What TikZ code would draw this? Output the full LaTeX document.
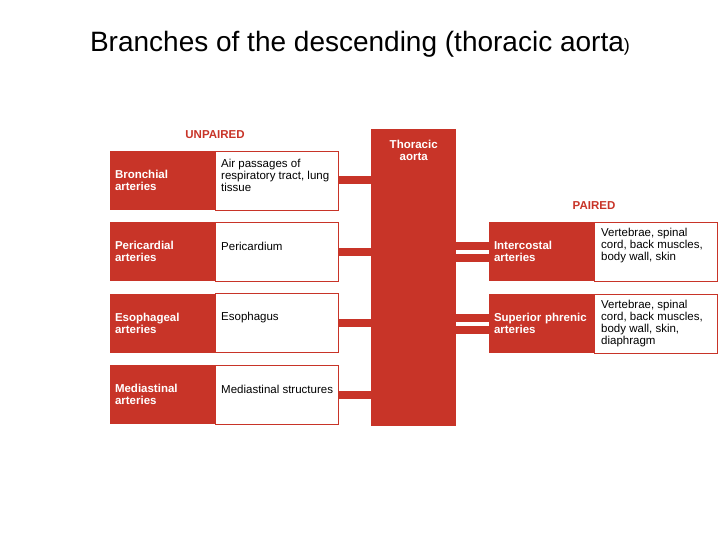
\documentclass[tikz,border=0pt]{standalone}
\usepackage{fontspec}
\setmainfont{Liberation Sans}
\usetikzlibrary{positioning}
\definecolor{aortared}{RGB}{200,52,40}
\def\boxfont{\fontsize{11.5}{12}\selectfont}
\tikzset{
	artery/.style={fill=aortared, text=white, font=\bfseries\boxfont, align=left, text width=95pt, inner xsep=5pt, inner ysep=0pt, outer sep=0pt, minimum width=105pt, minimum height=59pt, anchor=north west},
	region/.style={draw=aortared, fill=white, line width=0.8pt, inner sep=0pt, outer sep=0pt, minimum width=123pt, minimum height=59pt},
	regtext/.style={font=\boxfont, align=left, inner sep=0pt, anchor=west},
	heading/.style={text=aortared, font=\bfseries\boxfont, inner sep=0pt},
	branch/.style={draw=aortared, line width=8pt},
}

\begin{document}
\begin{tikzpicture}[x=1pt, y=-1pt]
			%%%%% START %%%%%
			\useasboundingbox (0, 0) rectangle (720, 540);
			
			\node[anchor=base, font=\fontsize{28}{30}\selectfont, inner sep=0pt] (title) at (360, 52) {Branches of the descending (thoracic aorta{\fontsize{18}{18}\selectfont)}};
			
			\node[fill=aortared, inner sep=0pt, minimum width=85pt, minimum height=297pt, anchor=north west] (aorta) at (371, 129) {};
			\node[text=white, font=\bfseries\boxfont, align=center, inner sep=0pt, anchor=north] (aortaT) at ([yshift=-11pt]aorta.north) {Thoracic\\aorta};
			
			% unpaired
			\node[artery] (bron) at (110, 151) {Bronchial\\arteries};
			\node[region, right=0pt of bron] (bronR) {};
			\node[regtext] (bronT) at ([shift={(6, -5)}]bronR.west) {Air passages of\\respiratory tract, lung\\tissue};
			
			\node[artery] (peri) at (110, 222) {Pericardial\\arteries};
			\node[region, right=0pt of peri] (periR) {};
			\node[regtext] (periT) at ([shift={(6, -5)}]periR.west) {Pericardium};
			
			\node[artery] (eso) at (110, 293.5) {Esophageal\\arteries};
			\node[region, right=0pt of eso] (esoR) {};
			\node[regtext] (esoT) at ([shift={(6, -5)}]esoR.west) {Esophagus};
			
			\node[artery] (medi) at (110, 365) {Mediastinal\\arteries};
			\node[region, right=0pt of medi] (mediR) {};
			\node[regtext] (mediT) at ([shift={(6, -5)}]mediR.west) {Mediastinal structures};
			
			\node[heading, above=12pt of bronR.north west] (unpaired) {UNPAIRED};
			
			\draw[branch] (bronR.east) -- (bronR.east -| aorta.west);
			\draw[branch] (periR.east) -- (periR.east -| aorta.west);
			\draw[branch] (esoR.east) -- (esoR.east -| aorta.west);
			\draw[branch] (mediR.east) -- (mediR.east -| aorta.west);
			
			% paired
			\node[artery] (inter) at (489, 222) {Intercostal\\arteries};
			\node[region, right=0pt of inter] (interR) {};
			\node[regtext] (interT) at ([shift={(7, -5.5)}]interR.west) {Vertebrae, spinal\\cord, back muscles,\\body wall, skin};
			
			\node[artery] (phren) at (489, 294) {Superior phrenic\\arteries};
			\node[region, right=0pt of phren] (phrenR) {};
			\node[regtext] (phrenT) at ([shift={(7, 0.5)}]phrenR.west) {Vertebrae, spinal\\cord, back muscles,\\body wall, skin,\\diaphragm};
			
			\node[heading, above=12pt of interR.north west] (paired) {PAIRED};
			
			\draw[branch] ([yshift=6pt]inter.west) -- ([yshift=6pt]inter.west -| aorta.east);
			\draw[branch] ([yshift=-6pt]inter.west) -- ([yshift=-6pt]inter.west -| aorta.east);
			\draw[branch] ([yshift=6pt]phren.west) -- ([yshift=6pt]phren.west -| aorta.east);
			\draw[branch] ([yshift=-6pt]phren.west) -- ([yshift=-6pt]phren.west -| aorta.east);
			%%%%% END %%%%%
\end{tikzpicture}
\end{document}
